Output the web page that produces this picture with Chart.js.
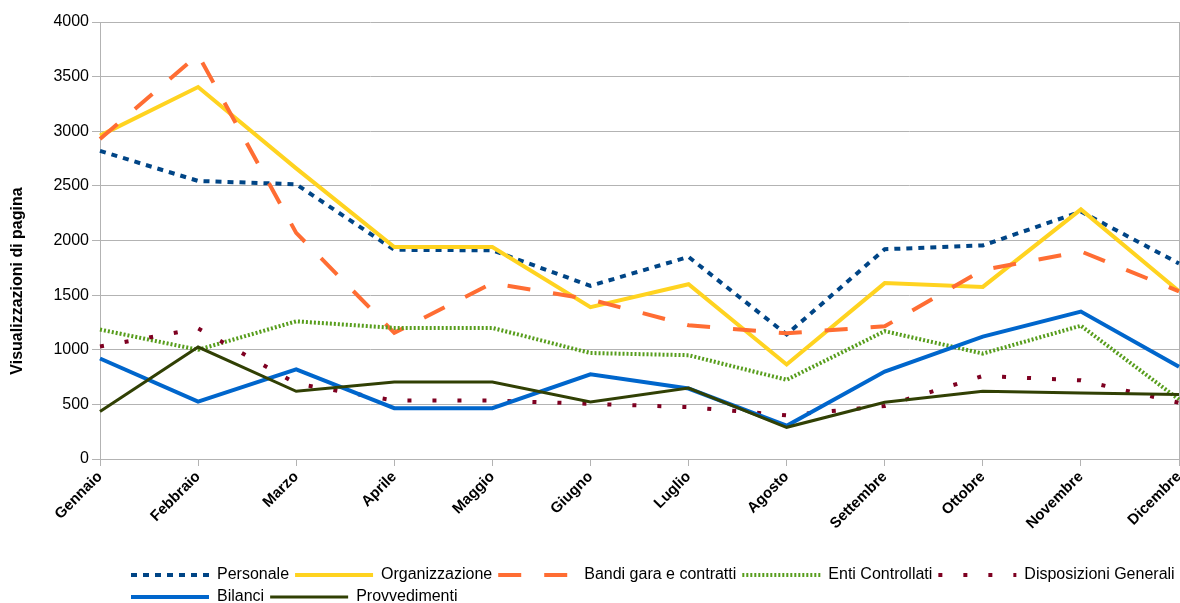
<!DOCTYPE html>
<html lang="it">
<head>
<meta charset="utf-8">
<title>Visualizzazioni di pagina</title>
<script src="https://cdn.jsdelivr.net/npm/chart.js@4.4.1/dist/chart.umd.min.js"></script>
<style>
  html, body { margin: 0; padding: 0; background: #fff; }
  #wrap { width: 1180px; height: 603px; position: relative; }
</style>
</head>
<body>
<div id="wrap"><canvas id="viewsChart"></canvas></div>
<script>
// Monthly page views per section of the site

const MONTHS = ['Gennaio', 'Febbraio', 'Marzo', 'Aprile', 'Maggio', 'Giugno',
  'Luglio', 'Agosto', 'Settembre', 'Ottobre', 'Novembre', 'Dicembre'];

const personale       = [2820, 2545, 2515, 1915, 1910, 1585, 1850, 1140, 1920, 1955, 2265, 1790];
const organizzazione  = [2960, 3405, 2660, 1940, 1940, 1390, 1600, 865, 1610, 1575, 2285, 1535];
const bandi           = [2930, 3700, 2070, 1155, 1610, 1460, 1225, 1150, 1215, 1730, 1900, 1535];
const enti            = [1185, 1000, 1260, 1200, 1200, 970, 950, 725, 1170, 965, 1220, 545];
const disposizioni    = [1030, 1195, 690, 535, 535, 505, 475, 400, 485, 760, 720, 515];
const bilanci         = [920, 525, 820, 465, 465, 775, 645, 305, 800, 1120, 1350, 845];
const provvedimenti   = [435, 1025, 620, 705, 705, 522, 650, 290, 520, 620, 605, 590];

const Y_TICKS = [0, 500, 1000, 1500, 2000, 2500, 3000, 3500, 4000];
const Y_TITLE = 'Visualizzazioni di pagina';

const GRID = '#b3b3b3';

const series = [
  { label: 'Personale', data: personale, color: '#004586', width: 4, dash: [6, 6] },
  { label: 'Organizzazione', data: organizzazione, color: '#ffd320', width: 4, dash: [] },
  { label: 'Bandi gara e contratti', data: bandi, color: '#ff6d33', width: 4, dash: [23, 23] },
  { label: 'Enti Controllati', data: enti, color: '#579d1c', width: 4, dash: [2, 2] },
  { label: 'Disposizioni Generali', data: disposizioni, color: '#7e0021', width: 4, dash: [4, 21] },
  { label: 'Bilanci', data: bilanci, color: '#0066cc', width: 4, dash: [] },
  { label: 'Provvedimenti', data: provvedimenti, color: '#314004', width: 3, dash: [] }
];

Chart.defaults.font.family = '"Liberation Sans", Arial, sans-serif';
Chart.defaults.color = '#000';

// later series are painted on top of earlier ones
const datasets = series.map((s, i) => ({
  label: s.label,
  data: s.data,
  borderColor: s.color,
  backgroundColor: s.color,
  borderWidth: s.width,
  borderDash: s.dash,
  pointRadius: 0,
  tension: 0,
  fill: false,
  order: series.length - i
}));

// legend rows sit a little lower and further right than the default box
const legendNudge = {
  id: 'legendNudge',
  afterLayout(chart) {
    const lg = chart.legend;
    lg.left += 125; lg.right += 125;
    lg.top += 12; lg.bottom += 12;
  }
};

// vertical axis title, centred on plot plus category labels
const yTitle = {
  id: 'yTitle',
  afterDraw(chart) {
    const ctx = chart.ctx;
    ctx.save();
    ctx.translate(18, 281);
    ctx.rotate(-Math.PI / 2);
    ctx.font = 'bold 16px "Liberation Sans", Arial, sans-serif';
    ctx.fillStyle = '#000';
    ctx.textAlign = 'center';
    ctx.textBaseline = 'middle';
    ctx.fillText(Y_TITLE, 0, 0);
    ctx.restore();
  }
};

// legend samples reuse each line's own dash pattern and width
function lineLegendLabels(chart) {
  const items = Chart.defaults.plugins.legend.labels.generateLabels(chart);
  items.forEach(item => {
    const ds = chart.data.datasets[item.datasetIndex];
    item.lineDash = ds.borderDash;
    item.lineWidth = ds.borderWidth;
    item.strokeStyle = ds.borderColor;
    item.lineCap = 'butt';
  });
  return items;
}

new Chart(document.getElementById('viewsChart'), {
  type: 'line',
  data: { labels: MONTHS, datasets },
  plugins: [legendNudge, yTitle],
  options: {
    responsive: true,
    maintainAspectRatio: false,
    animation: false,
    layout: { padding: { top: 22, right: 1, left: 0, bottom: 0 } },
    plugins: {
      tooltip: { enabled: false },
      legend: {
        position: 'bottom',
        align: 'start',
        labels: {
          usePointStyle: true,
          pointStyle: 'line',
          pointStyleWidth: 78,
          padding: 6,
          font: { size: 16 },
          color: '#000',
          generateLabels: lineLegendLabels,
          sort: (a, b) => a.datasetIndex - b.datasetIndex
        }
      }
    },
    scales: {
      x: {
        offset: false,
        grid: {
          color: ctx => ctx.index === MONTHS.length - 1 ? GRID : 'rgba(0,0,0,0)',
          tickColor: GRID,
          tickLength: 7,
          drawTicks: true
        },
        border: { color: GRID },
        ticks: {
          autoSkip: false,
          maxRotation: 45,
          minRotation: 45,
          padding: 2,
          font: { size: 15, weight: 'bold' },
          color: '#000'
        },
        afterFit(scale) {
          scale.height = 90;
          scale.paddingLeft = 0;
          scale.paddingRight = 0;
        }
      },
      y: {
        min: 0,
        max: 4000,
        afterBuildTicks(scale) {
          scale.ticks = Y_TICKS.map(v => ({ value: v }));
        },
        grid: { color: GRID, tickColor: GRID, tickLength: 8 },
        border: { color: GRID },
        ticks: {
          padding: 3,
          font: { size: 16 },
          color: '#000',
          callback: v => String(v)
        },
        afterFit(scale) {
          scale.width = 100;
        }
      }
    }
  }
});
</script>
</body>
</html>
